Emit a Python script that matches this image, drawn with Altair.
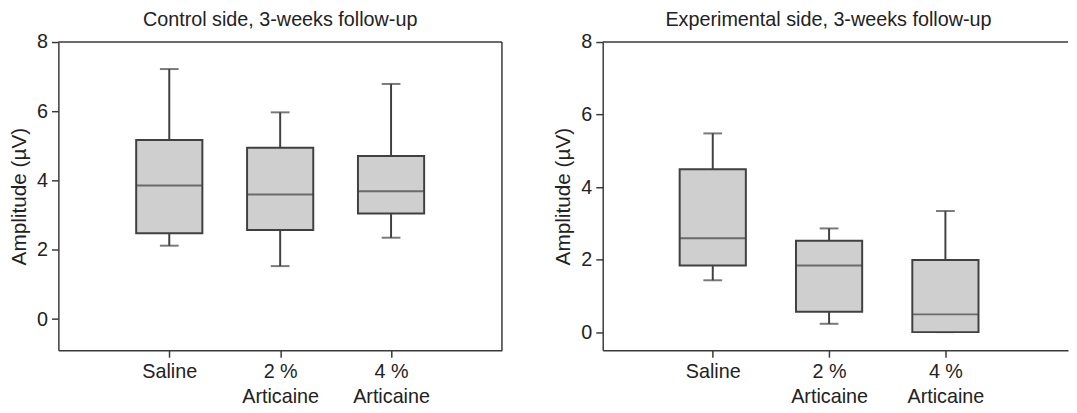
import altair as alt
import pandas as pd

# ---- data ----
groups = ["Saline", "2 %\nArticaine", "4 %\nArticaine"]

ctrl_min = [2.12, 1.53, 2.35]
ctrl_q1 = [2.48, 2.57, 3.05]
ctrl_med = [3.86, 3.60, 3.69]
ctrl_q3 = [5.17, 4.95, 4.71]
ctrl_max = [7.22, 5.97, 6.79]

exp_min = [1.43, 0.23, 0.0]
exp_q1 = [1.84, 0.56, 0.0]
exp_med = [2.59, 1.84, 0.49]
exp_q3 = [4.49, 2.52, 1.99]
exp_max = [5.48, 2.86, 3.34]

y_ticks = [0, 2, 4, 6, 8]

titles = ["Control side, 3-weeks follow-up", "Experimental side, 3-weeks follow-up"]
y_title = "Amplitude (µV)"

FONT = "Liberation Sans"
TXT = "#222222"
LINE = "#3a3a3a"
BOXLINE = "#404040"
FILL = "#cfcfcf"
H = 312


def make_df(mn, q1, med, q3, mx):
    return pd.DataFrame({"group": groups, "mn": mn, "q1": q1, "med": med, "q3": q3, "mx": mx})


def panel(df, title, ymin, width, pad, align, title_dx, right_border):
    x = alt.X(
        "group:N",
        sort=groups,
        scale=alt.Scale(type="point", padding=pad, align=align),
        axis=alt.Axis(
            title=None,
            labelExpr="split(datum.label, '\\n')",
            labelAngle=0,
            labelFont=FONT,
            labelFontSize=20,
            labelColor=TXT,
            labelLineHeight=25,
            labelPadding=5,
            tickSize=7,
            tickColor=LINE,
            tickWidth=1.5,
            domainColor=LINE,
            domainWidth=1.5,
            grid=False,
        ),
    )
    yscale = alt.Scale(domain=[ymin, 8], nice=False, zero=False)
    y = alt.Y(
        "mn:Q",
        scale=yscale,
        axis=alt.Axis(
            title=y_title,
            values=y_ticks,
            format="d",
            labelFont=FONT,
            labelFontSize=20,
            labelColor=TXT,
            labelPadding=4,
            titleFont=FONT,
            titleFontSize=21,
            titleFontWeight="normal",
            titleColor=TXT,
            titlePadding=7,
            tickSize=7,
            tickColor=LINE,
            tickWidth=1.5,
            domainColor=LINE,
            domainWidth=1.5,
            grid=False,
        ),
    )
    base = alt.Chart(df)
    lower = base.mark_rule(color=BOXLINE, strokeWidth=2).encode(x=x, y=y, y2="q1:Q")
    upper = base.mark_rule(color=BOXLINE, strokeWidth=2).encode(x=x, y="q3:Q", y2="mx:Q")
    cap_lo = base.mark_tick(color=BOXLINE, size=19, thickness=2).encode(x=x, y="mn:Q")
    cap_hi = base.mark_tick(color=BOXLINE, size=19, thickness=2).encode(x=x, y="mx:Q")
    box = base.mark_bar(size=67, fill=FILL, stroke=BOXLINE, strokeWidth=2).encode(
        x=x, y="q1:Q", y2="q3:Q"
    )
    med = base.mark_tick(color=BOXLINE, size=67, thickness=2).encode(x=x, y="med:Q")

    one = alt.Chart(pd.DataFrame({"k": [0]}))
    top = one.mark_rule(color=LINE, strokeWidth=1.5).encode(
        x=alt.value(0), x2=alt.value(width), y=alt.value(0)
    )
    layers = [lower, upper, cap_lo, cap_hi, box, med, top]
    if right_border:
        right = one.mark_rule(color=LINE, strokeWidth=1.5).encode(
            x=alt.value(width), y=alt.value(0), y2=alt.value(H)
        )
        layers.append(right)
    return alt.layer(*layers).properties(
        width=width,
        height=H,
        title=alt.TitleParams(
            title,
            font=FONT,
            fontSize=20,
            fontWeight="normal",
            color=TXT,
            offset=2,
            anchor="middle",
            dx=title_dx,
        ),
    )


left = panel(make_df(ctrl_min, ctrl_q1, ctrl_med, ctrl_q3, ctrl_max), titles[0], -0.9, 449, 1, 0.5, 0, True)
right = panel(make_df(exp_min, exp_q1, exp_med, exp_q3, exp_max), titles[1], -0.5, 471, 1.06, 0.473, -7, False)

chart = (
    alt.hconcat(left, right, spacing=50)
    .properties(padding=0)
    .configure_view(stroke=None)
)

chart.save("out.html", embed_options={"renderer": "svg", "actions": False})
